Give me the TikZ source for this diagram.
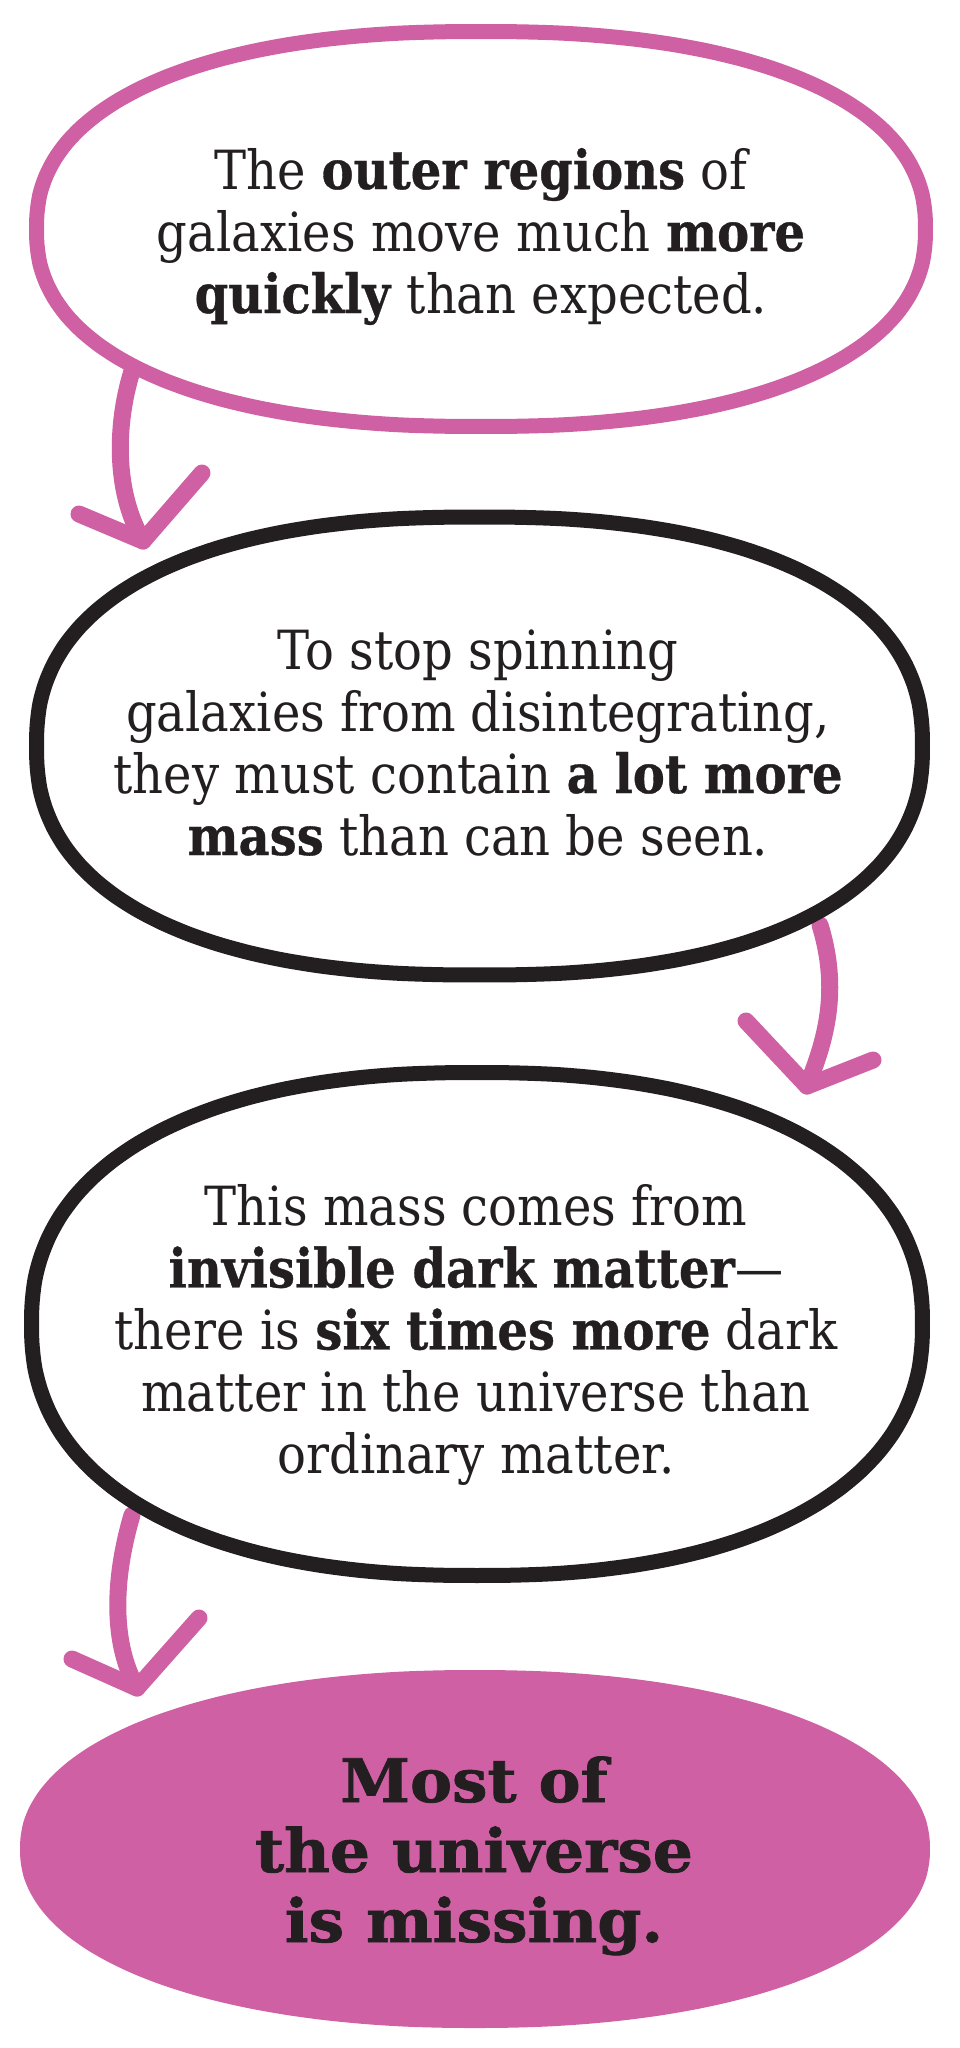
\documentclass[tikz,border=0pt]{standalone}
\usepackage{fontspec}
\setmainfont{DejaVu Serif}[FakeStretch=0.89, BoldFeatures={FakeBold=0.6}]
\newfontfamily\headfont{DejaVu Serif}[FakeStretch=1.05, BoldFeatures={FakeBold=1.2}]
\definecolor{pinkc}{RGB}{207,96,164}
\definecolor{inkc}{RGB}{35,31,32}
\begin{document}
\begin{tikzpicture}[x=1pt,y=-1pt,
  outline/.style={line width=15pt, line join=round},
  arrowline/.style={pinkc, line width=17pt, line cap=round, line join=round},
  bodytext/.style={inkc, align=center, inner sep=0pt, font=\fontsize{54}{62}\selectfont},
  bigtext/.style={inkc, align=center, inner sep=0pt, font=\headfont\fontsize{60}{70}\selectfont\bfseries}]
\fill[white] (0,0) rectangle (959,2048);
\useasboundingbox (0,0) rectangle (959,2048);

% arrow coordinates
\coordinate (s1) at (133,368);
\coordinate (k1) at (143,541);
\coordinate (a1l) at (79,514);
\coordinate (a1r) at (202,473);
\coordinate (s2) at (820,925);
\coordinate (k2) at (807,1086);
\coordinate (a2l) at (746,1021);
\coordinate (a2r) at (873,1060);
\coordinate (s3) at (132,1515);
\coordinate (k3) at (137,1688);
\coordinate (a3l) at (72,1659);
\coordinate (a3r) at (199,1618);

% arrows
\draw[arrowline] (s1) .. controls (116,420) and (113,490) .. (k1);
\draw[arrowline] (a1l) -- (k1) -- (a1r);
\draw[arrowline] (s2) .. controls (840,990) and (826,1040) .. (k2);
\draw[arrowline] (a2l) -- (k2) -- (a2r);
\draw[arrowline] (s3) .. controls (110,1590) and (115,1650) .. (k3);
\draw[arrowline] (a3l) -- (k3) -- (a3r);

% outlines
\draw[outline, pinkc] plot[smooth cycle, samples=72, domain=2.5:357.5, variable=\t]
  ({481+444.5*sign(cos(\t))*abs(cos(\t))^0.87},{229+197.5*sign(sin(\t))*abs(sin(\t))^0.87});
\draw[outline, inkc] plot[smooth cycle, samples=72, domain=2.5:357.5, variable=\t]
  ({479.5+443*sign(cos(\t))*abs(cos(\t))^0.85},{746+229*sign(sin(\t))*abs(sin(\t))^0.85});
\draw[outline, inkc] plot[smooth cycle, samples=72, domain=2.5:357.5, variable=\t]
  ({477+445.5*sign(cos(\t))*abs(cos(\t))^0.87},{1324+251.5*sign(sin(\t))*abs(sin(\t))^0.87});
\fill[pinkc] plot[smooth cycle, samples=72, domain=2.5:357.5, variable=\t]
  ({475+455*sign(cos(\t))*abs(cos(\t))^0.93},{1849+179*sign(sin(\t))*abs(sin(\t))^0.93});

% texts
\node[bodytext] (t1) at (481,238.6) {\strut The \textbf{outer regions} of\\ galaxies move much \textbf{more}\\ \strut\textbf{quickly} than expected.};
\node[bodytext] (t2) at (478,749.6) {\strut To stop spinning\\ galaxies from disintegrating,\\ they must contain \textbf{a lot more}\\ \strut\textbf{mass} than can be seen.};
\node[bodytext] (t3) at (476,1337) {\strut This mass comes from\\ \textbf{invisible dark matter}—\\ there is \textbf{six times more} dark\\ matter in the universe than\\ \strut ordinary matter.};
\node[bigtext] (t4) at (474,1858) {\strut Most of\\ the universe\\ \strut is missing.};
\end{tikzpicture}
\end{document}
